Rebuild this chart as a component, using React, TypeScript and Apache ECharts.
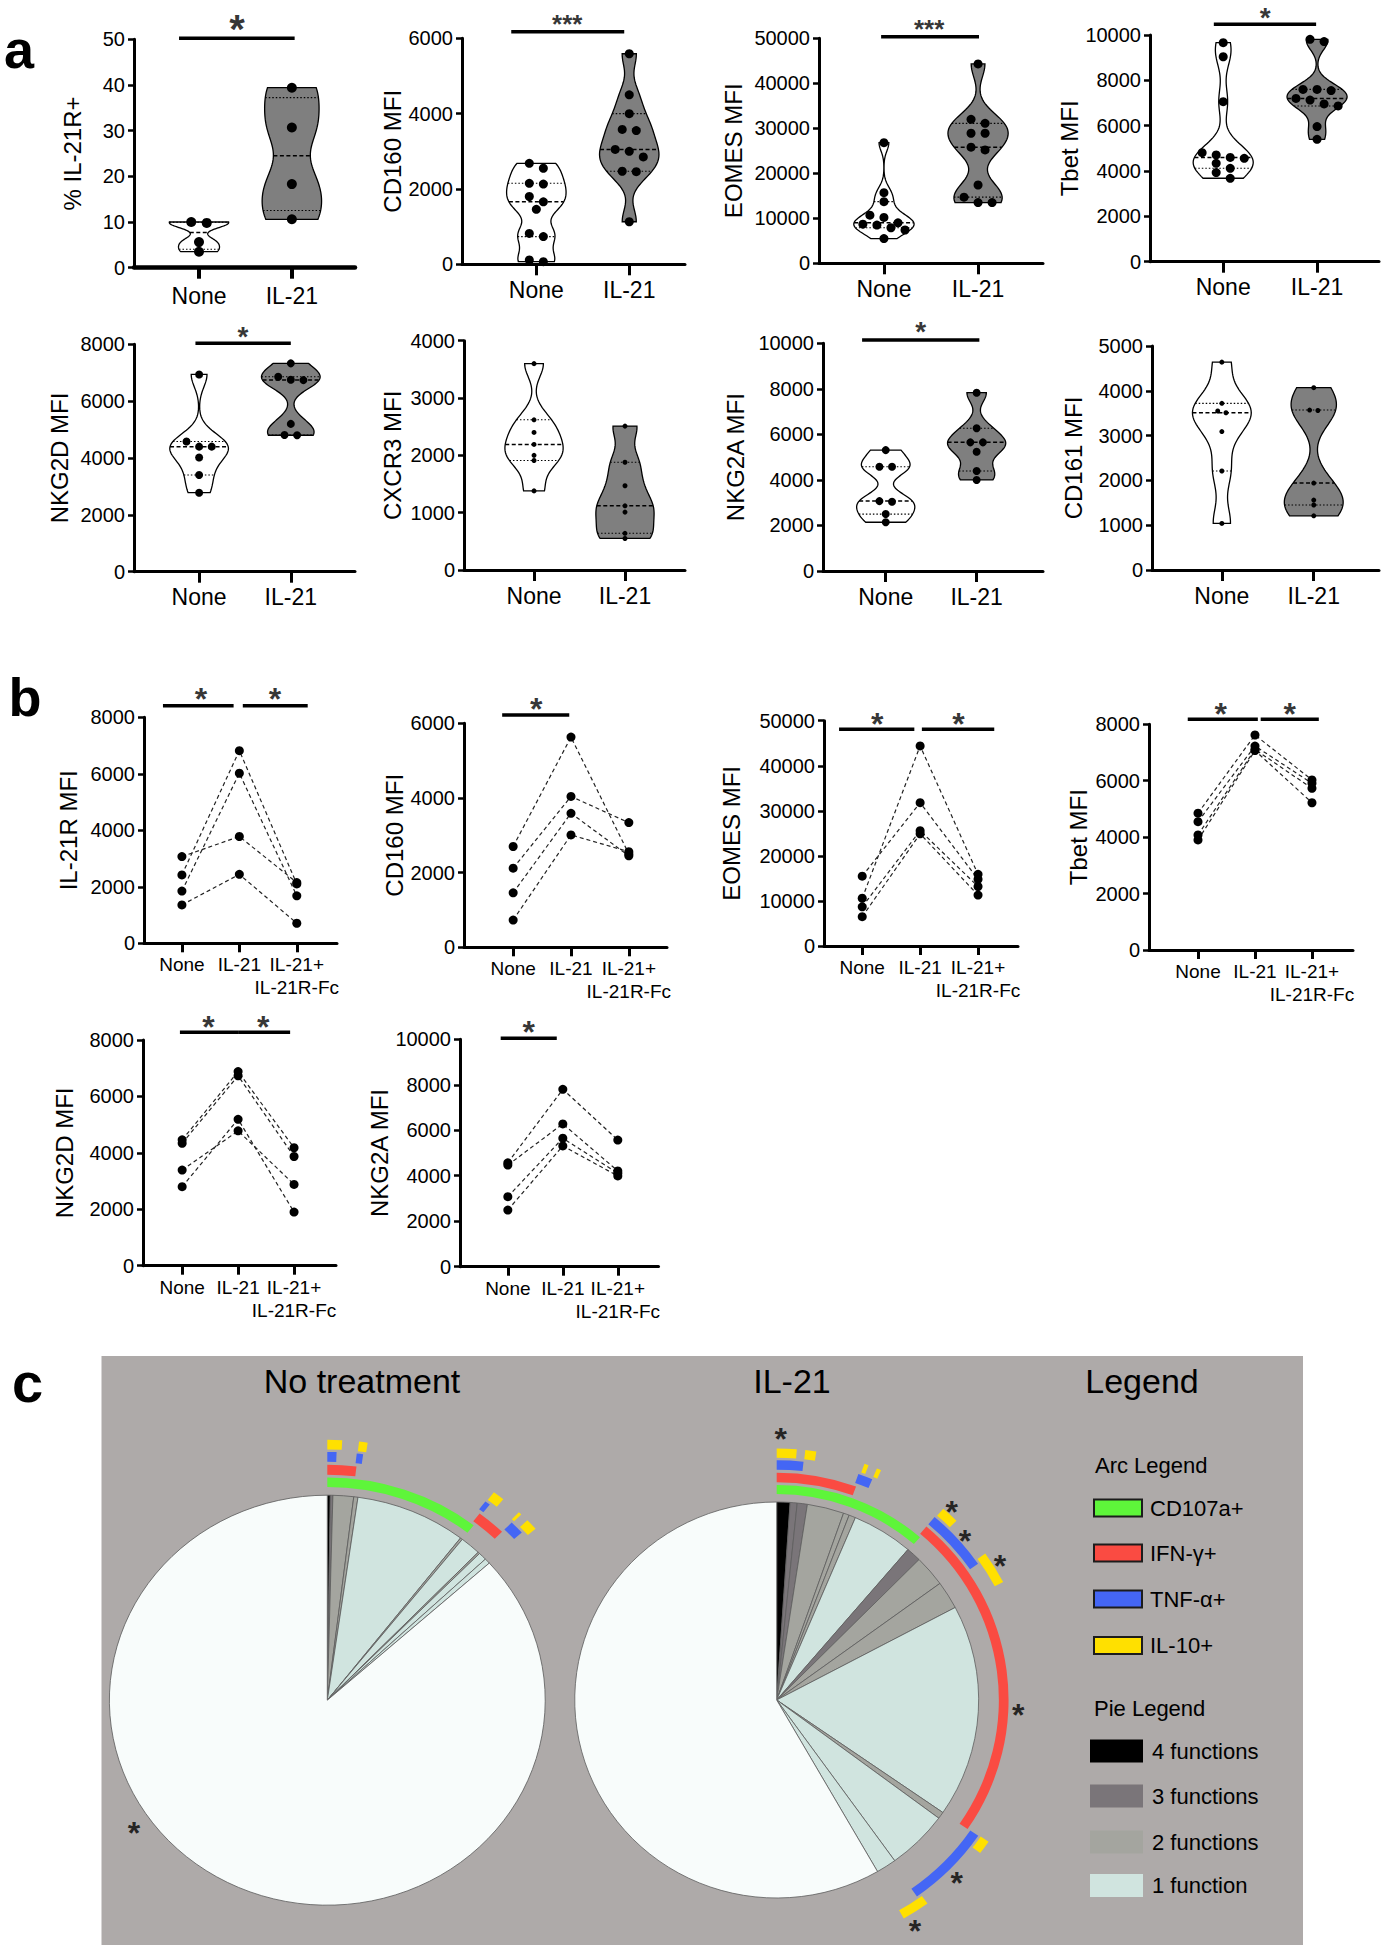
import React, { useEffect, useRef } from "react";
import * as echarts from "echarts";

// ================= DATA =================
// Panel a — violin plots, individual donor values
const violinCategories = ["None", "IL-21"];
const il21rPctNone = [3.5, 5.6, 9.8, 10.0];
const il21rPctIL21 = [10.6, 18.3, 30.7, 39.4];
const cd160None = [2680, 2550, 2150, 2130, 1800, 1660, 1460, 820, 735, 115, 70];
const cd160IL21 = [5590, 4500, 4000, 3580, 3550, 3050, 3000, 2850, 2470, 2460, 1130];
const eomesNone = [26800, 15700, 13700, 10700, 10200, 9000, 8700, 8500, 7900, 7400, 5500];
const eomesIL21 = [44300, 32000, 31100, 28900, 28900, 25800, 25200, 17400, 14700, 13500, 13500];
const tbetNone = [9660, 9040, 7060, 4810, 4710, 4600, 4560, 4340, 4120, 3930, 3680];
const tbetIL21 = [9810, 9710, 7600, 7600, 7550, 7200, 7130, 6960, 6870, 5960, 5400];
const nkg2dNone = [6940, 4580, 4400, 4400, 4020, 3400, 2780];
const nkg2dIL21 = [7330, 6860, 6750, 6740, 5200, 4810, 4800];
const cxcr3None = [3600, 2620, 2400, 2190, 2000, 1910, 1380];
const cxcr3IL21 = [2510, 1880, 1470, 1120, 1010, 640, 550];
const nkg2aNone = [5310, 4580, 4580, 3070, 3040, 2500, 2140];
const nkg2aIL21 = [7830, 6270, 5650, 5650, 5240, 4390, 4000];
const cd161None = [4640, 3720, 3550, 3510, 3090, 2210, 1040];
const cd161IL21 = [4070, 3570, 3560, 1940, 1560, 1450, 1210];

// Panel b — paired donors: [None, IL-21, IL-21+IL-21R-Fc]
const pairedCategories = ["None", "IL-21", "IL-21+\nIL-21R-Fc"];
const il21rMfiDonors = [[3070, 3780, 2150], [2420, 6820, 2100], [1850, 6020, 1680], [1360, 2440, 710]];
const cd160MfiDonors = [[2700, 5630, 2500], [2120, 4040, 3340], [1460, 3590, 2450], [730, 3010, 2560]];
const eomesMfiDonors = [[15500, 31800, 14800], [10600, 44400, 15900], [8700, 25600, 13200], [6500, 24900, 11300]];
const tbetMfiDonors = [[4850, 7620, 6030], [4550, 7230, 5910], [4080, 7110, 5730], [3900, 7070, 5220]];
const nkg2dMfiDonors = [[4460, 6880, 4180], [4340, 6730, 3870], [3390, 4780, 2880], [2800, 5190, 1900]];
const nkg2aMfiDonors = [[4570, 7800, 5570], [4470, 6280, 4210], [3080, 5650, 4110], [2490, 5310, 3990]];

// Panel c — SPICE pies: slice sizes (% of cells) and number of functions per slice
const functionLegend = ["4 functions", "3 functions", "2 functions", "1 function"];
const noTreatmentSlices = [0.22, 0.19, 1.53, 0.31, 8.22, 0.17, 1.53, 0.14, 0.61, 0.42, 86.66];
const noTreatmentFunctions = [4, 3, 2, 2, 1, 2, 1, 2, 1, 1, 0];
const il21Slices = [1.06, 0.56, 0.81, 2.94, 0.47, 0.53, 4.89, 1.19, 2.53, 2.28, 17.36, 0.56, 4.89, 1.61, 58.32];
const il21Functions = [4, 3, 3, 2, 2, 2, 1, 3, 2, 2, 1, 2, 1, 1, 0];
// Arcs: [start %, end %, marker index] ; markers: CD107a, IFN-γ, TNF-α, IL-10
const arcMarkers = ["CD107a+", "IFN-γ+", "TNF-α+", "IL-10+"];
const noTreatmentArcs = [
  [0, 10.61, 0],
  [0, 1.86, 1], [10.42, 12.31, 1],
  [0, 0.56, 2], [1.78, 2.17, 2], [10.22, 10.56, 2], [12.31, 13.19, 2],
  [0, 0.86, 3], [1.83, 2.33, 3], [10.28, 10.97, 3], [12.17, 12.36, 3], [12.86, 13.56, 3],
];
const il21Arcs = [
  [0, 11.33, 0],
  [0, 5.56, 1], [11.17, 34.61, 1],
  [0, 1.75, 2], [5.42, 6.39, 2], [11.17, 15.39, 2], [34.58, 40.28, 2],
  [0, 1.25, 3], [1.78, 2.47, 3], [5.56, 5.83, 3], [6.39, 6.67, 3], [11.25, 12.36, 3],
  [15.11, 17.22, 3], [34.53, 35.42, 3], [40.0, 41.75, 3],
];
// Significance stars in panel c, in pie-radius units [x, y]
const noTreatmentStars = [[-0.887, -0.614]];
const il21Stars = [[0.02, 1.352], [0.866, 0.985], [0.932, 0.84], [1.105, 0.714], [1.196, -0.039], [0.891, -0.889], [0.685, -1.131]];

// ================= STYLE / LAYOUT =================
const FONT = "'Liberation Sans', Arial, Helvetica, sans-serif";
const funcColors: Record<number, string> = { 4: "#000000", 3: "#7a7579", 2: "#a4a59f", 1: "#d0e4df", 0: "#f8fcfb" };
const markerColors = ["#5ef53a", "#fa4b42", "#4466f5", "#ffe000"];
const ringRadii = [[1.04, 1.086], [1.1, 1.148], [1.163, 1.211], [1.223, 1.27]];

type Sig = { bars: number[][]; stars: number[][]; text: string; size: number };
const violinPanels = [
  { name: "% IL-21R+", groups: [il21rPctNone, il21rPctIL21], yMax: 50, yStep: 10, box: [134, 39.3, 221, 228.4], xr: [-0.7, 1.68], gap: 50, dot: 10, xw: 4.5, lm: 17,
    sig: { bars: [[-0.215, 1.03, 50.22]], stars: [[0.41, 54.2]], text: "*", size: 40 } },
  { name: "CD160 MFI", groups: [cd160None, cd160IL21], yMax: 6000, yStep: 2000, box: [462, 38.3, 223, 226], xr: [-0.8, 1.6], gap: 58, dot: 9, xw: 3, lm: 14,
    sig: { bars: [[-0.27, 0.946, 6175]], stars: [[0.333, 6539]], text: "***", size: 26 } },
  { name: "EOMES MFI", groups: [eomesNone, eomesIL21], yMax: 50000, yStep: 10000, box: [819, 38.3, 224, 225], xr: [-0.69, 1.69], gap: 74, dot: 9, xw: 3, lm: 14,
    sig: { bars: [[-0.03, 1.01, 50356]], stars: [[0.48, 53400]], text: "***", size: 26 } },
  { name: "Tbet MFI", groups: [tbetNone, tbetIL21], yMax: 10000, yStep: 2000, box: [1150, 35, 229, 226.7], xr: [-0.78, 1.66], gap: 67, dot: 9, xw: 3, lm: 14,
    sig: { bars: [[-0.1, 0.99, 10472]], stars: [[0.447, 11028]], text: "*", size: 28 } },
  { name: "NKG2D MFI", groups: [nkg2dNone, nkg2dIL21], yMax: 8000, yStep: 2000, box: [134, 344.3, 221, 227.4], xr: [-0.71, 1.7], gap: 63, dot: 8, xw: 3, lm: 14,
    sig: { bars: [[-0.04, 1.0, 8035]], stars: [[0.478, 8503]], text: "*", size: 28 } },
  { name: "CXCR3 MFI", groups: [cxcr3None, cxcr3IL21], yMax: 4000, yStep: 1000, box: [464, 340.7, 221, 229.3], xr: [-0.77, 1.66], gap: 60, dot: 5, xw: 3, lm: 14,
    sig: null as Sig | null },
  { name: "NKG2A MFI", groups: [nkg2aNone, nkg2aIL21], yMax: 10000, yStep: 2000, box: [823, 343.3, 220, 227.7], xr: [-0.69, 1.73], gap: 76, dot: 8, xw: 3, lm: 14,
    sig: { bars: [[-0.26, 1.03, 10145]], stars: [[0.385, 10760]], text: "*", size: 28 } },
  { name: "CD161 MFI", groups: [cd161None, cd161IL21], yMax: 5000, yStep: 1000, box: [1152, 346, 227, 224], xr: [-0.76, 1.71], gap: 67, dot: 5, xw: 3, lm: 14,
    sig: null as Sig | null },
];

const pairedPanels = [
  { name: "IL-21R MFI", donors: il21rMfiDonors, yMax: 8000, yStep: 2000, box: [144, 717.3, 193, 226], xr: [-0.66, 2.7], gap: 64,
    sig: { bars: [[-0.33, 0.9, 8411], [1.06, 2.19, 8411]], stars: [[0.33, 8896], [1.62, 8896]], text: "*", size: 32 } },
  { name: "CD160 MFI", donors: cd160MfiDonors, yMax: 6000, yStep: 2000, box: [464, 723.3, 203, 224], xr: [-0.85, 2.66], gap: 56,
    sig: { bars: [[-0.19, 0.97, 6222]], stars: [[0.4, 6571]], text: "*", size: 32 } },
  { name: "EOMES MFI", donors: eomesMfiDonors, yMax: 50000, yStep: 10000, box: [824, 720.7, 194, 225.3], xr: [-0.66, 2.69], gap: 81,
    sig: { bars: [[-0.4, 0.9, 48091], [1.03, 2.28, 48091]], stars: [[0.26, 50821], [1.66, 50821]], text: "*", size: 32 } },
  { name: "Tbet MFI", donors: tbetMfiDonors, yMax: 8000, yStep: 2000, box: [1149, 724.3, 204, 225.7], xr: [-0.86, 2.72], gap: 59,
    sig: { bars: [[-0.18, 1.05, 8177], [1.1, 2.12, 8177]], stars: [[0.4, 8613], [1.61, 8613]], text: "*", size: 32 } },
  { name: "NKG2D MFI", donors: nkg2dMfiDonors, yMax: 8000, yStep: 2000, box: [143, 1040, 193, 225.7], xr: [-0.7, 2.75], gap: 67,
    sig: { bars: [[-0.04, 1.0, 8273], [1.0, 1.93, 8273]], stars: [[0.47, 8709], [1.45, 8709]], text: "*", size: 32 } },
  { name: "NKG2A MFI", donors: nkg2aMfiDonors, yMax: 10000, yStep: 2000, box: [460, 1039.3, 198.5, 227.4], xr: [-0.87, 2.74], gap: 67,
    sig: { bars: [[-0.13, 0.89, 10044]], stars: [[0.38, 10629]], text: "*", size: 32 } },
];

const pieLayouts = [
  { slices: noTreatmentSlices, funcs: noTreatmentFunctions, arcs: noTreatmentArcs, stars: noTreatmentStars, cx: 327.3, cy: 1700.2, rx: 218, ry: 205 },
  { slices: il21Slices, funcs: il21Functions, arcs: il21Arcs, stars: il21Stars, cx: 776.7, cy: 1700, rx: 202, ry: 198 },
];

// ================= HELPERS =================
function sortedAsc(a: number[]) {
  return a.slice().sort((x, y) => x - y);
}
function quantileGP(s: number[], p: number) {
  const n = s.length;
  const pos = p * (n + 1);
  if (pos <= 1) return s[0];
  if (pos >= n) return s[n - 1];
  const i = Math.floor(pos);
  const f = pos - i;
  return s[i - 1] + f * (s[i] - s[i - 1]);
}
function kdeShape(s: number[]): [number, number][] {
  const n = s.length;
  const mean = s.reduce((a, b) => a + b, 0) / n;
  const sd = Math.sqrt(s.reduce((a, b) => a + (b - mean) * (b - mean), 0) / (n - 1));
  const h = 0.5 * sd * Math.pow(n, -0.2);
  const lo = s[0];
  const hi = s[n - 1];
  const steps = 70;
  const out: [number, number][] = [];
  let mx = 0;
  for (let i = 0; i <= steps; i++) {
    const y = lo + ((hi - lo) * i) / steps;
    let d = 0;
    for (const v of s) {
      const z = (y - v) / h;
      d += Math.exp(-0.5 * z * z);
    }
    out.push([y, d]);
    if (d > mx) mx = d;
  }
  return out.map(([y, d]) => [y, d / mx] as [number, number]);
}
function widthAt(shape: [number, number][], y: number) {
  for (let i = 0; i < shape.length - 1; i++) {
    const [y0, w0] = shape[i];
    const [y1, w1] = shape[i + 1];
    if (y >= y0 && y <= y1) {
      const t = y1 === y0 ? 0 : (y - y0) / (y1 - y0);
      return w0 + t * (w1 - w0);
    }
  }
  return shape[shape.length - 1][1];
}

function makeViolinRender(groups: number[][], dot: number) {
  const fills = ["#ffffff", "#7f7f7f"];
  const prepared = groups.map((g) => {
    const s = sortedAsc(g);
    return { s, shape: kdeShape(s), q: [quantileGP(s, 0.25), quantileGP(s, 0.5), quantileGP(s, 0.75)] };
  });
  return (params: any, api: any) => {
    const gi = params.dataIndex;
    const P = prepared[gi];
    const half = 0.32;
    const pts: number[][] = [];
    P.shape.forEach(([y, w]) => pts.push(api.coord([gi + w * half, y])));
    for (let i = P.shape.length - 1; i >= 0; i--) {
      const [y, w] = P.shape[i];
      pts.push(api.coord([gi - w * half, y]));
    }
    const children: any[] = [
      { type: "polygon", shape: { points: pts }, style: { fill: fills[gi], stroke: "#000", lineWidth: 1.3 } },
    ];
    P.q.forEach((qv, k) => {
      const w = widthAt(P.shape, qv) * half;
      const a = api.coord([gi - w, qv]);
      const b = api.coord([gi + w, qv]);
      children.push({
        type: "line",
        shape: { x1: a[0], y1: a[1], x2: b[0], y2: b[1] },
        style: { stroke: "#000", lineWidth: k === 1 ? 1.5 : 1.1, lineDash: k === 1 ? [4, 2.5] : [1.5, 2] },
      });
    });
    const desc = P.s.slice().reverse().map((v) => api.coord([gi, v]));
    const clusters: number[][][] = [];
    for (const p of desc) {
      const c = clusters[clusters.length - 1];
      if (c && Math.abs(p[1] - c[0][1]) < dot * 0.9) c.push(p);
      else clusters.push([p]);
    }
    const sp = dot * 1.45 + 1;
    clusters.forEach((c) =>
      c.forEach((p, i) =>
        children.push({
          type: "circle",
          shape: { cx: p[0] + (i - (c.length - 1) / 2) * sp, cy: p[1], r: dot / 2 },
          style: { fill: "#000" },
        })
      )
    );
    return { type: "group", children };
  };
}

const sliceRender = (_params: any, api: any) => {
  const c = api.coord([0, 0]);
  const sz = api.size([1, 1]);
  const rx = sz[0];
  const ry = sz[1];
  const a0 = -Math.PI / 2 + (api.value(0) / 100) * 2 * Math.PI;
  const a1 = -Math.PI / 2 + (api.value(1) / 100) * 2 * Math.PI;
  const f = api.value(2);
  return {
    type: "sector",
    x: c[0],
    y: c[1],
    scaleX: rx / ry,
    scaleY: 1,
    shape: { cx: 0, cy: 0, r0: 0, r: ry, startAngle: a0, endAngle: a1, clockwise: true },
    style: { fill: funcColors[f], stroke: "#5e5e5e", lineWidth: 0.8 },
  };
};
const arcRender = (_params: any, api: any) => {
  const c = api.coord([0, 0]);
  const sz = api.size([1, 1]);
  const rx = sz[0];
  const ry = sz[1];
  const a0 = -Math.PI / 2 + (api.value(0) / 100) * 2 * Math.PI;
  const a1 = -Math.PI / 2 + (api.value(1) / 100) * 2 * Math.PI;
  const m = api.value(2);
  return {
    type: "sector",
    x: c[0],
    y: c[1],
    scaleX: rx / ry,
    scaleY: 1,
    shape: { cx: 0, cy: 0, r0: ry * ringRadii[m][0], r: ry * ringRadii[m][1], startAngle: a0, endAngle: a1, clockwise: true },
    style: { fill: markerColors[m] },
  };
};

function buildOption() {
  const grid: any[] = [];
  const xAxis: any[] = [];
  const yAxis: any[] = [];
  const series: any[] = [];

  const addAxes = (box: number[], xr: number[], cats: string[], yMax: number, yStep: number, name: string, gap: number, opts: any) => {
    const idx = grid.length;
    grid.push({ left: box[0], top: box[1], width: box[2], height: box[3], containLabel: false });
    const ticks = cats.map((_, i) => i);
    const firstLines = cats.map((c) => c.split("\n")[0]);
    const secondLines = cats.map((c) => c.split("\n")[1] ?? "");
    xAxis.push({
      gridIndex: idx,
      type: "value",
      position: "bottom",
      min: xr[0],
      max: xr[1],
      splitLine: { show: false },
      axisLine: { show: true, onZero: false, lineStyle: { color: "#000", width: opts.xw } },
      axisTick: { show: true, customValues: ticks, length: opts.tl, lineStyle: { color: "#000", width: opts.tw } },
      axisLabel: {
        show: true,
        customValues: ticks,
        formatter: (v: number) => firstLines[Math.round(v)] ?? "",
        color: "#000",
        fontSize: opts.cf,
        fontFamily: FONT,
        margin: opts.lm,
      },
    });
    const extra = ticks.filter((i) => secondLines[i] !== "");
    if (extra.length) {
      xAxis.push({
        gridIndex: idx,
        type: "value",
        position: "bottom",
        min: xr[0],
        max: xr[1],
        splitLine: { show: false },
        axisLine: { show: false, onZero: false },
        axisTick: { show: false },
        axisLabel: {
          show: true,
          customValues: extra,
          formatter: (v: number) => secondLines[Math.round(v)] ?? "",
          color: "#000",
          fontSize: opts.cf,
          fontFamily: FONT,
          margin: opts.lm + opts.lh,
        },
      });
    }
    const xi = xAxis.length - 1 - (extra.length ? 1 : 0);
    yAxis.push({
      gridIndex: idx,
      type: "value",
      min: 0,
      max: yMax,
      interval: yStep,
      name,
      nameLocation: "middle",
      nameRotate: 90,
      nameGap: gap,
      nameTextStyle: { fontSize: 24, color: "#000", fontFamily: FONT },
      splitLine: { show: false },
      axisLine: { show: true, onZero: false, lineStyle: { color: "#000", width: 3 } },
      axisTick: { show: true, length: 6, lineStyle: { color: "#000", width: 2.5 } },
      axisLabel: { color: "#000", fontSize: 20, fontFamily: FONT, margin: 9, formatter: (v: number) => String(v) },
    });
    return { xi, yi: yAxis.length - 1 };
  };

  const addSig = (ax: { xi: number; yi: number }, sig: Sig | null) => {
    if (!sig) return;
    sig.bars.forEach((b) =>
      series.push({
        type: "line",
        xAxisIndex: ax.xi,
        yAxisIndex: ax.yi,
        data: [[b[0], b[2]], [b[1], b[2]]],
        symbol: "none",
        clip: false,
        lineStyle: { color: "#000", width: 3.5 },
        z: 5,
      })
    );
    series.push({
      type: "scatter",
      xAxisIndex: ax.xi,
      yAxisIndex: ax.yi,
      clip: false,
      symbolSize: 1,
      itemStyle: { color: "rgba(0,0,0,0)" },
      data: sig.stars,
      label: {
        show: true,
        position: "inside",
        formatter: () => sig.text,
        color: "#000",
        fontSize: sig.size,
        fontWeight: "bold",
        fontFamily: FONT,
        offset: [0, Math.round(sig.size * 0.23)],
      },
      z: 6,
    });
  };

  violinPanels.forEach((p) => {
    const ax = addAxes(p.box, p.xr, violinCategories, p.yMax, p.yStep, p.name, p.gap, {
      xw: p.xw, tl: 11, tw: p.xw > 3 ? 4 : 3, cf: 23, lm: p.lm, lh: 26,
    });
    series.push({
      type: "custom",
      xAxisIndex: ax.xi,
      yAxisIndex: ax.yi,
      renderItem: makeViolinRender(p.groups, p.dot),
      data: p.groups.map((g, i) => [i, quantileGP(sortedAsc(g), 0.5)]),
      clip: false,
      z: 3,
    });
    addSig(ax, p.sig);
  });

  pairedPanels.forEach((p) => {
    const ax = addAxes(p.box, p.xr, pairedCategories, p.yMax, p.yStep, p.name, p.gap, {
      xw: 3, tl: 9, tw: 3, cf: 19, lm: 12, lh: 23,
    });
    p.donors.forEach((d) =>
      series.push({
        type: "line",
        xAxisIndex: ax.xi,
        yAxisIndex: ax.yi,
        data: d.map((v, i) => [i, v]),
        symbol: "circle",
        symbolSize: 9,
        itemStyle: { color: "#000" },
        lineStyle: { color: "#222", width: 1.2, type: [4, 3] },
        z: 3,
      })
    );
    addSig(ax, p.sig);
  });

  pieLayouts.forEach((pl) => {
    const idx = grid.length;
    grid.push({ left: pl.cx - pl.rx, top: pl.cy - pl.ry, width: 2 * pl.rx, height: 2 * pl.ry });
    xAxis.push({ gridIndex: idx, type: "value", min: -1, max: 1, show: false });
    yAxis.push({ gridIndex: idx, type: "value", min: -1, max: 1, show: false });
    const xi = xAxis.length - 1;
    const yi = yAxis.length - 1;
    let acc = 0;
    const sliceData = pl.slices.map((v, i) => {
      const item = [acc, acc + v, pl.funcs[i]];
      acc += v;
      return item;
    });
    series.push({ type: "custom", xAxisIndex: xi, yAxisIndex: yi, renderItem: sliceRender, data: sliceData, clip: false, z: 3 });
    series.push({ type: "custom", xAxisIndex: xi, yAxisIndex: yi, renderItem: arcRender, data: pl.arcs, clip: false, z: 3 });
    series.push({
      type: "scatter",
      xAxisIndex: xi,
      yAxisIndex: yi,
      clip: false,
      symbolSize: 1,
      itemStyle: { color: "rgba(0,0,0,0)" },
      data: pl.stars,
      label: {
        show: true,
        position: "inside",
        formatter: () => "*",
        color: "#000",
        fontSize: 32,
        fontWeight: "bold",
        fontFamily: FONT,
        offset: [0, 7],
      },
      z: 6,
    });
  });

  const txt = (text: string, x: number, y: number, size: number, extra: any = {}) => ({
    type: "text",
    x,
    y,
    z: 50,
    style: {
      text,
      fill: "#000",
      fontSize: size,
      fontFamily: FONT,
      align: "center",
      verticalAlign: "middle",
      textAlign: "center",
      textVerticalAlign: "middle",
      ...extra,
    },
  });
  const left = { align: "left", textAlign: "left" };

  const graphic: any[] = [
    { type: "rect", z: -10, shape: { x: 101.5, y: 1356, width: 1201.5, height: 589 }, style: { fill: "#aeaaa9" } },
    txt("a", 19, 49, 54, { fontWeight: "bold" }),
    txt("b", 25, 697, 54, { fontWeight: "bold" }),
    txt("c", 27.5, 1382, 56, { fontWeight: "bold" }),
    txt("No treatment", 362, 1381, 34),
    txt("IL-21", 792, 1381, 34),
    txt("Legend", 1142, 1381, 34),
    txt("Arc Legend", 1095, 1465, 22, left),
    txt("Pie Legend", 1094, 1708, 22, left),
  ];
  const arcY = [1508, 1553, 1599, 1645.5];
  arcMarkers.forEach((m, i) => {
    graphic.push({
      type: "rect",
      z: 40,
      shape: { x: 1094, y: arcY[i] - 8.5, width: 48, height: 17 },
      style: { fill: markerColors[i], stroke: "#1c1c1c", lineWidth: 2 },
    });
    graphic.push(txt(m, 1150, arcY[i], 22, left));
  });
  const pieY = [1751, 1796, 1842, 1885.5];
  functionLegend.forEach((f, i) => {
    graphic.push({
      type: "rect",
      z: 40,
      shape: { x: 1090, y: pieY[i] - 11.5, width: 53, height: 23 },
      style: { fill: funcColors[4 - i] },
    });
    graphic.push(txt(f, 1152, pieY[i], 22, left));
  });

  return { animation: false, backgroundColor: "#ffffff", grid, xAxis, yAxis, series, graphic };
}

export default function App() {
  const ref = useRef<HTMLDivElement>(null);
  useEffect(() => {
    if (!ref.current) return;
    const chart = echarts.init(ref.current, undefined, { renderer: "svg" });
    chart.setOption(buildOption() as any);
    return () => chart.dispose();
  }, []);
  return <div ref={ref} style={{ position: "absolute", left: 0, top: 0, width: 1387, height: 1950 }} />;
}
